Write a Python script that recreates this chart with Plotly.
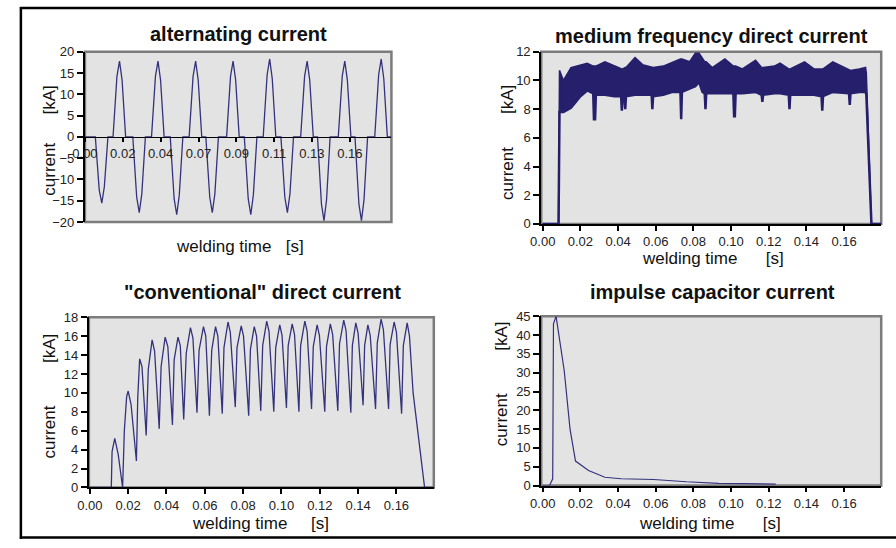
import plotly.graph_objects as go

W, H = 896, 548

# ---------------- data ----------------
# alternating current (time s, current kA)
ac_t = [0.0000,
        0.0061, 0.0084, 0.0099, 0.0114, 0.0135,
        0.0165, 0.0188, 0.0203, 0.0218, 0.0239,
        0.0281, 0.0304, 0.0319, 0.0334, 0.0355,
        0.0391, 0.0414, 0.0429, 0.0444, 0.0465,
        0.0501, 0.0524, 0.0539, 0.0554, 0.0575,
        0.0612, 0.0635, 0.0650, 0.0665, 0.0686,
        0.0710, 0.0733, 0.0748, 0.0763, 0.0784,
        0.0832, 0.0855, 0.0870, 0.0885, 0.0906,
        0.0936, 0.0959, 0.0974, 0.0989, 0.1010,
        0.1047, 0.1070, 0.1085, 0.1100, 0.1121,
        0.1151, 0.1174, 0.1189, 0.1204, 0.1225,
        0.1267, 0.1290, 0.1305, 0.1320, 0.1341,
        0.1366, 0.1389, 0.1404, 0.1419, 0.1440,
        0.1488, 0.1511, 0.1526, 0.1541, 0.1562,
        0.1586, 0.1609, 0.1624, 0.1639, 0.1660,
        0.1702, 0.1725, 0.1740, 0.1755, 0.1776,
        0.1800]
ac_i = [0.0,
        0.0, -12.5, -15.6, -11.7, 0.0,
        0.0, 14.2, 17.8, 13.4, 0.0,
        0.0, -14.2, -17.8, -13.4, 0.0,
        0.0, 14.2, 17.8, 13.4, 0.0,
        0.0, -14.6, -18.3, -13.7, 0.0,
        0.0, 14.2, 17.8, 13.4, 0.0,
        0.0, -14.2, -17.8, -13.4, 0.0,
        0.0, 14.2, 17.8, 13.4, 0.0,
        0.0, -14.6, -18.3, -13.7, 0.0,
        0.0, 14.6, 18.3, 13.7, 0.0,
        0.0, -14.2, -17.8, -13.4, 0.0,
        0.0, 14.2, 17.8, 13.4, 0.0,
        0.0, -15.8, -19.7, -14.8, 0.0,
        0.0, 14.2, 17.8, 13.4, 0.0,
        0.0, -15.8, -19.7, -14.8, 0.0,
        0.0, 14.6, 18.3, 13.7, 0.0,
        0.0]
ac_tick_vals = [0.0, 0.0222, 0.0444, 0.0667, 0.0889, 0.1111, 0.1333, 0.1556]
ac_tick_text = ["0.00", "0.02", "0.04", "0.07", "0.09", "0.11", "0.13", "0.16"]

# medium frequency direct current: envelope of the dense ripple band
mf_t = [0.0000, 0.0084, 0.0089, 0.0110, 0.0150, 0.0200, 0.0236, 0.0268, 0.0272, 0.0278,
        0.0282, 0.0330, 0.0380, 0.0416, 0.0420, 0.0424, 0.0434, 0.0438, 0.0442, 0.0490,
        0.0530, 0.0578, 0.0582, 0.0586, 0.0640, 0.0690, 0.0731, 0.0735, 0.0739, 0.0780,
        0.0810, 0.0830, 0.0848, 0.0860, 0.0864, 0.0868, 0.0900, 0.0967, 0.1012, 0.1016,
        0.1020, 0.1024, 0.1060, 0.1130, 0.1162, 0.1166, 0.1170, 0.1230, 0.1260, 0.1306,
        0.1310, 0.1314, 0.1390, 0.1440, 0.1480, 0.1484, 0.1488, 0.1540, 0.1626, 0.1630,
        0.1634, 0.1680, 0.1714, 0.1718, 0.1745, 0.1800]
mf_upper = [0.0, 0.0, 10.7, 10.0, 10.9, 11.1, 11.2, 11.0, 11.0, 11.0,
            11.0, 11.3, 11.0, 10.8, 10.8, 10.8, 10.9, 10.9, 10.9, 11.6,
            11.1, 10.9, 10.9, 10.9, 11.0, 11.3, 11.5, 11.5, 11.5, 11.3,
            11.9, 11.9, 11.5, 11.3, 11.3, 11.3, 10.9, 11.5, 11.0, 11.0,
            11.0, 11.0, 10.8, 11.4, 10.9, 10.9, 10.9, 11.0, 11.2, 10.8,
            10.8, 10.8, 11.3, 10.8, 10.8, 10.8, 10.8, 11.3, 10.7, 10.7,
            10.7, 10.8, 10.9, 10.5, 0.0, 0.0]
mf_lower = [0.0, 0.0, 7.8, 7.8, 8.1, 8.9, 9.3, 9.1, 7.3, 7.3,
            9.0, 9.0, 8.9, 8.9, 7.9, 8.8, 8.9, 8.0, 8.9, 9.0,
            9.0, 9.0, 8.0, 8.9, 9.0, 9.2, 9.2, 7.3, 9.2, 9.4,
            9.6, 9.9, 9.2, 9.1, 8.0, 9.1, 9.1, 9.1, 9.1, 7.5,
            7.5, 9.1, 9.1, 9.2, 9.0, 8.5, 9.0, 9.1, 9.1, 9.0,
            8.0, 9.0, 9.0, 9.0, 8.9, 7.9, 8.9, 9.2, 9.1, 8.3,
            9.1, 9.2, 9.2, 9.0, 0.0, 0.0]

# "conventional" direct current
dc_t = [0.0000, 0.0112, 0.0116, 0.0130, 0.0148, 0.0171,
        0.0180, 0.0192, 0.0200, 0.0215, 0.0243,
        0.0250, 0.0260, 0.0272, 0.0294,
        0.0305, 0.0325, 0.0338, 0.0362,
        0.0372, 0.0393, 0.0407, 0.0431,
        0.0440, 0.0460, 0.0472, 0.0490,
        0.0503, 0.0525, 0.0538, 0.0559,
        0.0570, 0.0593, 0.0605, 0.0624,
        0.0636, 0.0656, 0.0668, 0.0691,
        0.0700, 0.0721, 0.0733, 0.0759,
        0.0768, 0.0790, 0.0802, 0.0829,
        0.0838, 0.0858, 0.0870, 0.0892,
        0.0902, 0.0923, 0.0935, 0.0960,
        0.0970, 0.0991, 0.1003, 0.1026,
        0.1035, 0.1056, 0.1068, 0.1091,
        0.1100, 0.1122, 0.1134, 0.1157,
        0.1166, 0.1186, 0.1198, 0.1226,
        0.1235, 0.1255, 0.1267, 0.1294,
        0.1303, 0.1325, 0.1337, 0.1362,
        0.1370, 0.1388, 0.1400, 0.1426,
        0.1434, 0.1451, 0.1463, 0.1491,
        0.1500, 0.1520, 0.1532, 0.1559,
        0.1567, 0.1588, 0.1600, 0.1627,
        0.1636, 0.1656, 0.1668, 0.1687, 0.1721, 0.1747, 0.1800]
dc_i = [0.0, 0.0, 3.8, 5.2, 3.5, 0.0,
        6.0, 9.6, 10.2, 8.8, 2.8,
        9.5, 13.6, 12.8, 5.5,
        12.5, 15.6, 14.4, 6.2,
        12.8, 15.9, 14.9, 6.6,
        13.5, 15.9, 15.0, 7.2,
        14.2, 16.9, 15.8, 7.9,
        14.5, 17.0, 16.0, 7.6,
        14.5, 17.0, 16.0, 7.8,
        14.8, 17.5, 16.4, 8.5,
        14.8, 17.1, 16.0, 7.6,
        14.6, 17.0, 16.0, 8.1,
        15.0, 17.6, 16.5, 8.0,
        14.8, 17.2, 16.1, 8.4,
        15.0, 17.3, 16.2, 8.0,
        15.0, 17.6, 16.5, 8.3,
        14.9, 17.2, 16.1, 8.0,
        14.9, 17.3, 16.2, 8.1,
        15.2, 17.7, 16.6, 7.9,
        15.0, 17.4, 16.3, 8.7,
        15.0, 17.2, 16.1, 8.3,
        15.3, 17.8, 16.7, 8.3,
        15.1, 17.5, 16.4, 7.8,
        15.0, 17.4, 16.0, 10.0, 4.0, 0.0, 0.0]

# impulse capacitor current
ic_t = [0.0000, 0.0036, 0.0053, 0.0057, 0.0071, 0.0114, 0.0145, 0.0174,
        0.0243, 0.0330, 0.0416, 0.0589, 0.0762, 0.0935, 0.1237]
ic_i = [0.0, 0.0, 1.8, 43.0, 45.0, 30.6, 15.0, 6.5,
        4.0, 2.2, 1.8, 1.6, 1.0, 0.6, 0.4]

titles = ["alternating current", "medium frequency direct current",
          "\"conventional\" direct current", "impulse capacitor current"]

# ---------------- layout helpers ----------------
def px_x(p):
    return p / W

def px_y(p):
    return 1 - p / H

FONT = "Arial, Liberation Sans, sans-serif"
LINE = "#34327c"
BAND = "#261f6c"
TXT = "#222222"

fig = go.Figure()

fig.add_trace(go.Scatter(x=ac_t, y=ac_i, mode="lines", xaxis="x", yaxis="y",
                         line=dict(color=LINE, width=1.3), showlegend=False))
fig.add_trace(go.Scatter(x=mf_t, y=mf_lower, mode="lines", xaxis="x2", yaxis="y2",
                         line=dict(color=BAND, width=2.5), showlegend=False))
fig.add_trace(go.Scatter(x=mf_t, y=mf_upper, mode="lines", xaxis="x2", yaxis="y2",
                         fill="tonexty", fillcolor=BAND,
                         line=dict(color=BAND, width=1.5), showlegend=False))
fig.add_trace(go.Scatter(x=dc_t, y=dc_i, mode="lines", xaxis="x3", yaxis="y3",
                         line=dict(color=LINE, width=1.3), showlegend=False))
fig.add_trace(go.Scatter(x=ic_t, y=ic_i, mode="lines", xaxis="x4", yaxis="y4",
                         line=dict(color=LINE, width=1.2), showlegend=False))

tickfont = dict(family=FONT, size=13, color=TXT)

def xax(domain, rng, **kw):
    d = dict(domain=[px_x(domain[0]), px_x(domain[1])], range=rng,
             showgrid=False, zeroline=False, showline=True, linecolor="black",
             linewidth=1.5, ticks="outside", ticklen=5, tickcolor="black",
             tickwidth=1.5, tickfont=tickfont, fixedrange=True)
    d.update(kw)
    return d

def yax(domain, rng, dtick, **kw):
    d = dict(domain=[px_y(domain[1]), px_y(domain[0])], range=rng,
             showgrid=False, zeroline=False, showline=True, linecolor="black",
             linewidth=2, ticks="outside", ticklen=6, tickcolor="black",
             tickwidth=1.5, tickfont=tickfont, dtick=dtick, tick0=0,
             fixedrange=True)
    d.update(kw)
    return d

# pixel boxes of the plot areas
AC_X, AC_Y = (73, 384), (46, 221)
MF_X, MF_Y = (536, 881), (46, 223)
DC_X, DC_Y = (77, 427), (319, 494)
IC_X, IC_Y = (536, 881), (318, 492)

ac_zero_px = AC_Y[0] + (AC_Y[1] - AC_Y[0]) * 0.5

fig.update_layout(
    width=W, height=H, margin=dict(l=0, r=0, t=0, b=0),
    paper_bgcolor="white", plot_bgcolor="#e3e3e3",
    xaxis=xax(AC_X, [0, 0.18], anchor="free", position=px_y(ac_zero_px),
              tickmode="array", tickvals=ac_tick_vals, ticktext=ac_tick_text,
              linewidth=1.2, ticklen=4),
    yaxis=yax(AC_Y, [-20, 20], 5, anchor="x"),
    xaxis2=xax(MF_X, [-0.0008, 0.1797], anchor="y2", dtick=0.02, tick0=0, tickformat=".2f"),
    yaxis2=yax(MF_Y, [0, 12], 2, anchor="x2"),
    xaxis3=xax(DC_X, [-0.0005, 0.1795], anchor="y3", dtick=0.02, tick0=0, tickformat=".2f"),
    yaxis3=yax(DC_Y, [0, 18], 2, anchor="x3"),
    xaxis4=xax(IC_X, [-0.0008, 0.1797], anchor="y4", dtick=0.02, tick0=0, tickformat=".2f"),
    yaxis4=yax(IC_Y, [0, 45], 5, anchor="x4"),
)

shapes = []
for xs, ys in [("x", "y"), ("x2", "y2"), ("x3", "y3"), ("x4", "y4")]:
    shapes.append(dict(type="rect", xref=xs + " domain", yref=ys + " domain",
                       x0=0, x1=1, y0=0, y1=1, layer="below",
                       line=dict(color="#7c7c7c", width=2.5)))
# outer page frame (left, top, bottom)
shapes.append(dict(type="line", xref="paper", yref="paper", x0=px_x(8), x1=px_x(8),
                   y0=px_y(0), y1=px_y(547), line=dict(color="black", width=2.5)))
shapes.append(dict(type="line", xref="paper", yref="paper", x0=px_x(7), x1=1,
                   y0=px_y(1), y1=px_y(1), line=dict(color="black", width=2.5)))
shapes.append(dict(type="line", xref="paper", yref="paper", x0=px_x(7), x1=1,
                   y0=px_y(545.5), y1=px_y(545.5), line=dict(color="black", width=2.5)))
fig.update_layout(shapes=shapes)

NB = "\u00a0"
ann = []
def text(x, y, s, size=17, bold=False, angle=0):
    ann.append(dict(x=px_x(x), y=px_y(y), xref="paper", yref="paper", text=s,
                    showarrow=False, xanchor="center", yanchor="middle",
                    textangle=angle,
                    font=dict(family=FONT, size=size, color="#111111",
                              weight="bold" if bold else "normal")))

text(229, 28, titles[0], 20, True)
text(709, 30, titles[1], 20, True)
text(253, 293, titles[2], 20, True)
text(710, 293, titles[3], 20, True)

text(230, 246, "welding time" + NB * 3 + "[s]")
text(710, 259, "welding time" + NB * 6 + "[s]")
text(251, 531, "welding time" + NB * 5 + "[s]")
text(707, 531, "welding time" + NB * 6 + "[s]")

text(37, 137, "current" + NB * 6 + "[kA]", 17, False, -90)
text(501, 139, "current" + NB * 7 + "[kA]", 17, False, -90)
text(37, 400, "current" + NB * 9 + "[kA]", 17, False, -90)
text(496, 387, "current" + NB * 9 + "[kA]", 17, False, -90)
fig.update_layout(annotations=ann)

fig.write_html("out.html", config={"displayModeBar": False},
               post_script="document.body.style.margin='0';"
                           "document.body.style.overflow='hidden';")
